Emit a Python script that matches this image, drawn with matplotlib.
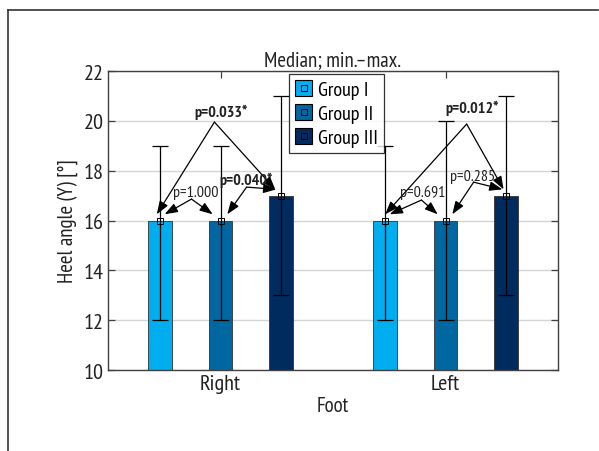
import numpy as np
import matplotlib.pyplot as plt
from matplotlib.lines import Line2D
from matplotlib.patches import Rectangle

plt.rcParams['font.family'] = ['PT Sans Narrow', 'DejaVu Sans']

# data (median, min, max per group and foot)
feet = ['Right', 'Left']
groups = ['Group I', 'Group II', 'Group III']
colors = ['#00AEEF', '#0067A0', '#002B5E']
medians = [[16, 16], [16, 16], [17, 17]]
mins = [[12, 12], [12, 12], [13, 13]]
maxs = [[19, 19], [19, 20], [21, 21]]

# pairwise comparisons: foot index, group a, group b, label, significant
comparisons = [
    (0, 0, 2, 'p=0.033*', True),
    (0, 0, 1, 'p=1.000', False),
    (0, 1, 2, 'p=0.040*', True),
    (1, 0, 2, 'p=0.012*', True),
    (1, 0, 1, 'p=0.691', False),
    (1, 1, 2, 'p=0.285', False),
]
# where each label sits and where its two arrows start
label_xy = [(1.0, 20.4), (0.888, 17.14), (1.112, 17.66), (2.12, 20.55), (1.897, 17.14), (2.12, 17.78)]
apex_xy = [(0.973, 19.95), (0.871, 16.86), (1.116, 17.34), (2.094, 19.87), (1.893, 16.82), (2.125, 17.54)]
tip_dx = [(-0.015, -0.025), (0.02, -0.035), (0.03, -0.02), (0.0, -0.01), (0.02, -0.035), (0.03, -0.015)]

offsets = [-0.268, 0.0, 0.268]
width = 0.105

fig = plt.figure(figsize=(5.99, 4.52), dpi=100)
ax = fig.add_axes([0.1803, 0.1792, 0.7513, 0.6615])

x = np.arange(1, len(feet) + 1)
for g in range(len(groups)):
    xpos = x + offsets[g]
    med = np.array(medians[g])
    ax.bar(xpos, med - 10, width, bottom=10, color=colors[g], edgecolor='#333333',
           linewidth=0.6, zorder=2)
    ax.errorbar(xpos, med, yerr=[med - np.array(mins[g]), np.array(maxs[g]) - med],
                fmt='none', ecolor='black', elinewidth=0.9, capsize=6, capthick=0.9, zorder=3)
    ax.plot(xpos, med, 's', ms=4, mfc='none', mec='black', mew=0.7, zorder=4)

# p-value labels with arrows
for i, (f, a, b, lab, sig) in enumerate(comparisons):
    ax.text(label_xy[i][0], label_xy[i][1], lab, ha='center', va='center', fontsize=11.5,
            fontweight='bold' if sig else 'normal', color='#222222', zorder=5)
    for k, g in enumerate((a, b)):
        tx = f + 1 + offsets[g] + tip_dx[i][k]
        ty = medians[g][f] + 0.25
        ax.annotate('', xy=(tx, ty), xytext=apex_xy[i],
                    arrowprops=dict(arrowstyle='-|>,head_length=0.6,head_width=0.22',
                                    color='black', lw=0.9, shrinkA=0, shrinkB=0,
                                    mutation_scale=13), zorder=5)

ax.set_xlim(0.5, 2.5)
ax.set_ylim(10, 22)
ax.set_yticks(np.arange(10, 23, 2))
ax.set_xticks(x)
ax.set_xticklabels(feet)
ax.yaxis.grid(True, color='#d4d4d4', linewidth=1, zorder=0)
ax.set_axisbelow(True)
ax.tick_params(direction='in', top=True, right=True, length=5, width=0.9,
               labelsize=16, color='#404040', labelcolor='#222222', pad=3)
for sp in ax.spines.values():
    sp.set_color('#404040')
    sp.set_linewidth(1)

ax.set_title('Median; min.\u2013max.', fontsize=15, color='#222222', pad=4)
ax.set_xlabel('Foot', fontsize=15, color='#222222', labelpad=2)
ax.set_ylabel('Heel angle (Y) [\u00b0]', fontsize=15, color='#222222', labelpad=4)

# legend with colored square and open marker inside
handles = [(Rectangle((0, 0), 1, 1, facecolor=c, edgecolor='black', linewidth=0.8),
            Line2D([], [], marker='s', ms=5, mfc='none', mec='black', mew=0.7, ls='none'))
           for c in colors]
leg = ax.legend(handles, groups, loc='upper left', bbox_to_anchor=(0.4825, 0.834),
                bbox_transform=fig.transFigure, fontsize=14.5, frameon=True, fancybox=False,
                handlelength=0.85, handleheight=0.85, handletextpad=0.3, borderpad=0.3,
                labelspacing=0.25, borderaxespad=0)
leg.get_frame().set_edgecolor('black')
leg.get_frame().set_linewidth(0.9)

# outer frame (top and left only)
fig.add_artist(Line2D([8 / 599, 598 / 599], [1 - 11 / 452, 1 - 11 / 452], color='#333333', lw=1.2))
fig.add_artist(Line2D([8 / 599, 8 / 599], [0, 1 - 11 / 452], color='#333333', lw=1.2))

fig.savefig('out.png', dpi=100)
